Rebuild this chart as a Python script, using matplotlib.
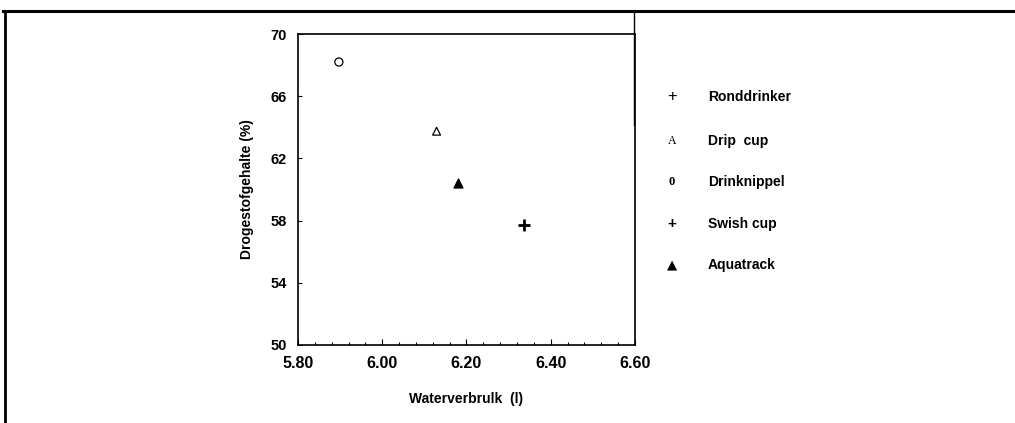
import numpy as np
import matplotlib
matplotlib.use('Agg')
import matplotlib.pyplot as plt
from matplotlib.lines import Line2D

# Daten
systemen = ['Drinknippel', 'Drip cup', 'Aquatrack', 'Swish cup']
waterverbruik = [5.897, 6.129, 6.179, 6.337]
drogestof = [68.2, 63.75, 60.45, 57.7]

legenda_tekst = ['Ronddrinker', 'Drip  cup', 'Drinknippel', 'Swish cup', 'Aquatrack']
legenda_teken = ['+', 'A', '0', '+', '▲']

x_ticks = [5.80, 6.00, 6.20, 6.40, 6.60]
y_ticks = [50, 54, 58, 62, 66, 70]

plt.rcParams['font.family'] = ['Liberation Sans', 'DejaVu Sans']

fig = plt.figure(figsize=(10.15, 4.23), dpi=100, facecolor='white')
ax = fig.add_axes([0.2936, 0.1844, 0.332, 0.7352])

# Punten
stijl = {
    'Drinknippel': dict(marker='o', facecolors='none', edgecolors='black', s=34, linewidths=0.9),
    'Drip cup': dict(marker='^', facecolors='none', edgecolors='black', s=32, linewidths=0.9),
    'Aquatrack': dict(marker='^', facecolors='black', edgecolors='black', s=42, linewidths=0.9),
    'Swish cup': dict(marker='+', c='black', s=70, linewidths=2.0),
}
for naam, xv, yv in zip(systemen, waterverbruik, drogestof):
    ax.scatter([xv], [yv], zorder=3, **stijl[naam])

ax.set_xlim(5.80, 6.60)
ax.set_ylim(50, 70)
ax.set_xticks(x_ticks)
ax.set_xticklabels(['%.2f' % v for v in x_ticks], fontsize=11.5, fontweight='bold')
ax.set_xticks(np.arange(5.84, 6.60, 0.04), minor=True)
ax.set_yticks(y_ticks)
ax.set_yticklabels([str(v) for v in y_ticks], fontsize=10.5, fontweight='bold')
ax.tick_params(axis='x', which='major', direction='in', length=4, width=0.8, pad=8)
ax.tick_params(axis='x', which='minor', direction='in', length=2.5, width=0.8)
ax.tick_params(axis='y', which='major', direction='in', length=3, width=0.8, pad=8)
for sp in ax.spines.values():
    sp.set_linewidth(1.2)

ax.set_xlabel('Waterverbrulk  (l)', fontsize=10, fontweight='bold', labelpad=15)
ax.set_ylabel('Drogestofgehalte (%)', fontsize=10, fontweight='bold', labelpad=12)

# Legenda als tekst
leg_y = [97, 141, 182, 224, 265]
for i, (t, m) in enumerate(zip(legenda_tekst, legenda_teken)):
    yy = 1 - leg_y[i] / 423
    if i == 0:
        fig.text(672 / 1015, yy, m, fontsize=12, ha='center', va='center', fontweight='normal')
    elif i == 1:
        fig.text(672 / 1015, yy, m, fontsize=8.5, ha='center', va='center', family='Liberation Serif')
    elif i == 2:
        fig.text(672 / 1015, yy, m, fontsize=9, ha='center', va='center', family='Liberation Serif', fontweight='bold')
    elif i == 3:
        fig.text(672 / 1015, yy, m, fontsize=11, ha='center', va='center', fontweight='bold')
    else:
        fig.text(672 / 1015, yy, m, fontsize=9.5, ha='center', va='center', family='DejaVu Sans')
    fig.text(708 / 1015, yy, t, fontsize=10, ha='left', va='center', fontweight='bold')

# Kaderlijnen van de scan
fig.add_artist(Line2D([3 / 1015, 1], [1 - 11 / 423] * 2, color='black', lw=2.2))
fig.add_artist(Line2D([5 / 1015] * 2, [0, 1 - 11 / 423], color='black', lw=2.0))
fig.add_artist(Line2D([634 / 1015] * 2, [1 - 125 / 423, 1 - 11 / 423], color='black', lw=1.0))

fig.savefig('out.png', dpi=100, facecolor='white')
